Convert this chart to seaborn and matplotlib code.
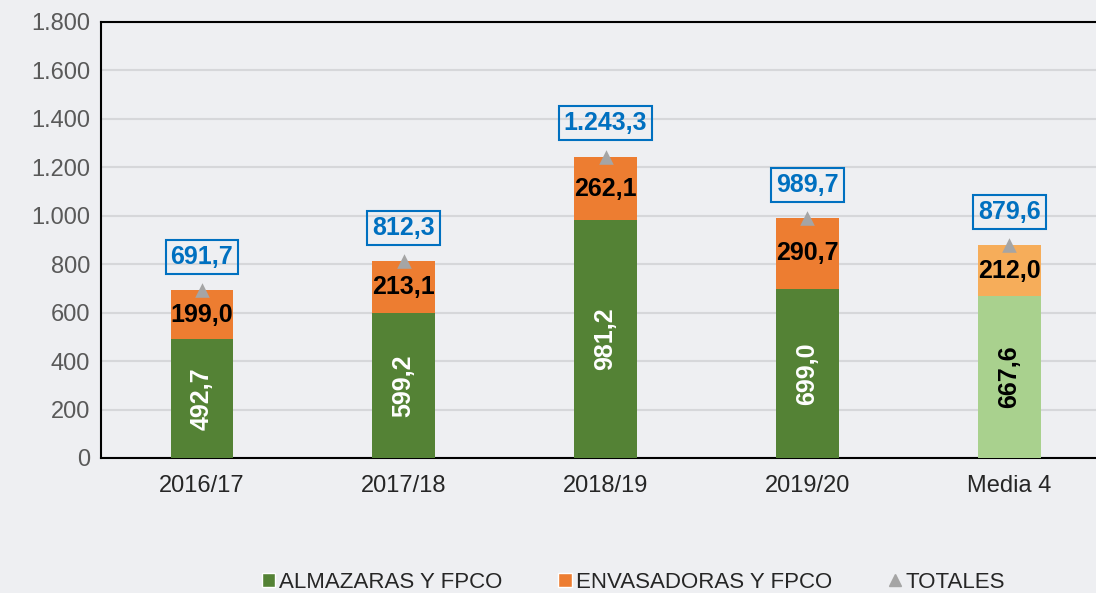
import pandas as pd
import seaborn as sns
import matplotlib.pyplot as plt
from matplotlib.patches import Patch
from matplotlib.lines import Line2D
from matplotlib.ticker import FuncFormatter

# data
campaigns = ['2016/17', '2017/18', '2018/19', '2019/20', 'Media 4']
almazaras = [492.7, 599.2, 981.2, 699.0, 667.6]
envasadoras = [199.0, 213.1, 262.1, 290.7, 212.0]
totales = [691.7, 812.3, 1243.3, 989.7, 879.6]

green = ['#548235', '#548235', '#548235', '#548235', '#A9D18E']
orange = ['#ED7D31', '#ED7D31', '#ED7D31', '#ED7D31', '#F6AD5A']
bg = '#eeeff2'

df = pd.DataFrame({'campaign': campaigns, 'alm': almazaras,
                   'env': envasadoras, 'total': totales})
df['stack'] = df['alm'] + df['env']

sns.set_theme(style='white')
plt.rcParams['font.family'] = ['Liberation Sans', 'DejaVu Sans']

fig = plt.figure(figsize=(10.96, 5.93), dpi=100, facecolor=bg)
ax = fig.add_axes([0.0922, 0.2277, 0.9078, 0.7353])
ax.set_facecolor(bg)

# stacked bars: full stack in orange, green drawn over it
sns.barplot(data=df, x='campaign', y='stack', hue='campaign', palette=orange,
            width=0.31, saturation=1, linewidth=0, legend=False, ax=ax, zorder=2)
sns.barplot(data=df, x='campaign', y='alm', hue='campaign', palette=green,
            width=0.31, saturation=1, linewidth=0, legend=False, ax=ax, zorder=3)
sns.scatterplot(data=df, x='campaign', y='total', marker='^', color='#A5A5A5',
                s=110, linewidth=0, ax=ax, zorder=5)

def es(v):
    return f'{v:,.1f}'.replace(',', 'X').replace('.', ',').replace('X', '.')

for i, row in df.iterrows():
    gcol = 'black' if i == 4 else 'white'
    ax.text(i, row['alm'] / 2, es(row['alm']), rotation=90, ha='center',
            va='center', fontsize=18, fontweight='bold', color=gcol, zorder=6)
    ax.text(i, row['alm'] + row['env'] / 2, es(row['env']), ha='center',
            va='center', fontsize=18, fontweight='bold', color='black', zorder=6)
    ax.annotate(es(row['total']), (i, row['total']), xytext=(0, 24),
                textcoords='offset points', ha='center', va='center',
                fontsize=18, fontweight='bold', color='#0070C0', zorder=6,
                bbox=dict(boxstyle='square,pad=0.2', fc='none',
                          ec='#0070C0', lw=1.5))

ax.set_ylim(0, 1800)
ax.set_xlim(-0.5, 4.43)
ax.set_yticks(range(0, 1801, 200))
ax.yaxis.set_major_formatter(FuncFormatter(lambda v, p: f'{int(v):,}'.replace(',', '.')))
ax.grid(axis='y', color='#d6d7da', lw=1.5, zorder=0)
ax.set_axisbelow(True)
ax.set_xlabel('')
ax.set_ylabel('')
ax.tick_params(axis='y', labelsize=17, labelcolor='#595959', pad=8, length=0)
ax.tick_params(axis='x', labelsize=17, labelcolor='#262626', pad=12, length=0)
for s in ['top', 'left', 'bottom']:
    ax.spines[s].set_color('black')
    ax.spines[s].set_linewidth(1.5)
ax.spines['right'].set_visible(False)

handles = [
    Patch(facecolor='#548235', label='ALMAZARAS Y FPCO'),
    Patch(facecolor='#ED7D31', label='ENVASADORAS Y FPCO'),
    Line2D([], [], marker='^', color='#A5A5A5', ls='none', markersize=8,
           label='TOTALES'),
]
fig.legend(handles=handles, loc='center', bbox_to_anchor=(0.578, 0.018),
           ncol=3, frameon=False, fontsize=16, handlelength=0.6,
           handleheight=0.6, handletextpad=0.2, columnspacing=2.5)

fig.savefig('out.png', dpi=100, facecolor=bg)
